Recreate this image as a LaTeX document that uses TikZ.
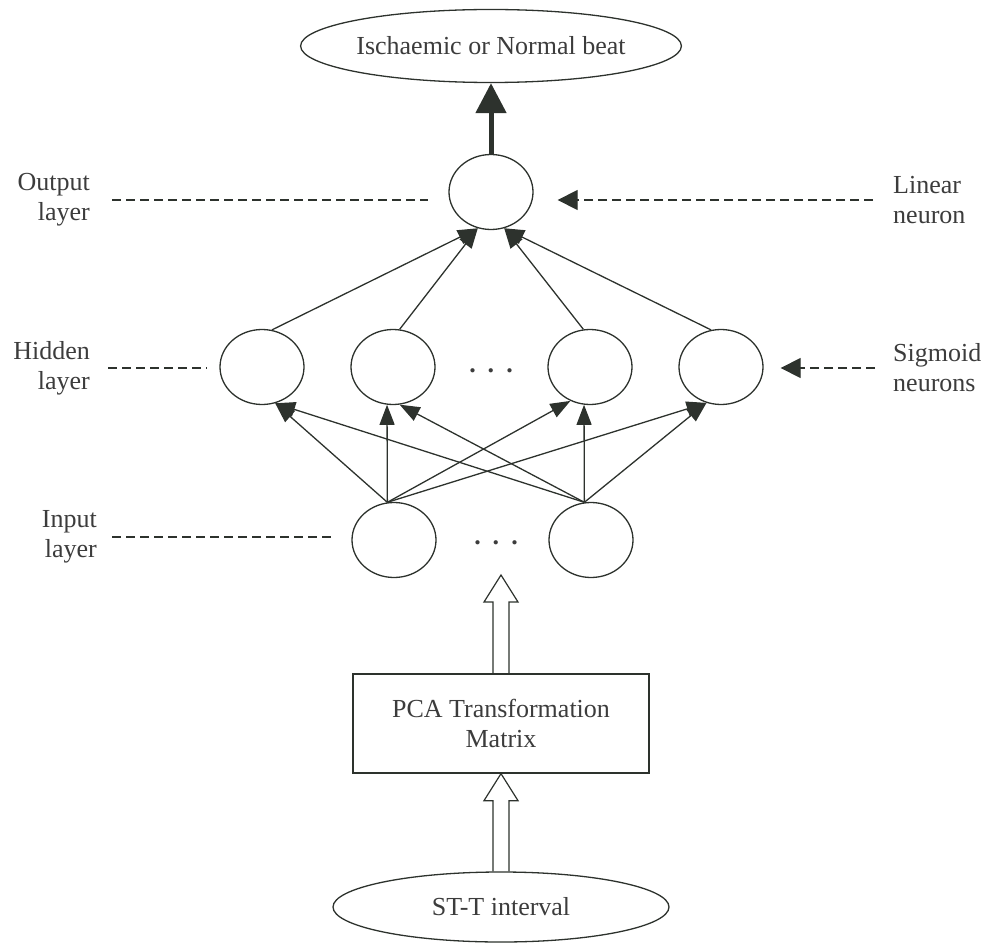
\documentclass[tikz,border=0pt]{standalone}
\usepackage{fontspec}
\setmainfont{Liberation Serif}
\usetikzlibrary{arrows.meta,calc,shapes.geometric}

\definecolor{ink}{RGB}{45,50,45}
\definecolor{txt}{RGB}{60,60,60}

\tikzset{
  neuron/.style={ellipse,draw=ink,line width=1.3pt,minimum width=84pt,minimum height=75pt,inner sep=0pt},
  blob/.style={ellipse,draw=ink,line width=1.3pt,inner sep=0pt},
  layerlbl/.style={inner sep=0pt},
  wire/.style={draw=ink,line width=1.3pt,-{Triangle[length=20pt,width=15pt]}},
  guide/.style={draw=ink,line width=1.3pt,dash pattern=on 9pt off 5pt},
}

% open block arrow pointing up, from #1 to tip #2
\newcommand\hollowarrow[2]{%
  \draw[ink,line width=1.2pt] ($(#1)+(-8,0)$) -- ($(#2)+(-8,27)$) -- ($(#2)+(-17,27)$) -- (#2)
    -- ($(#2)+(17,27)$) -- ($(#2)+(8,27)$) -- ($(#1)+(8,0)$);}

\begin{document}
\begin{tikzpicture}[x=1pt,y=-1pt,text=txt,font=\fontsize{26}{30}\selectfont] % one unit = one pixel, y pointing down
\useasboundingbox (0,0) rectangle (985,944);

% result and output neuron
\node[blob,minimum width=318pt,minimum height=73pt] (beat) at (491,46) {Ischaemic or Normal beat};
\node[neuron] (out) at (491,192) {};
\draw[ink,line width=5pt,-{Triangle[length=30pt,width=30pt]}] (out) -- (beat);

% hidden layer
\node[neuron] (h1) at (262,367) {};
\node[neuron] (h2) at (393,367) {};
\node[neuron] (h3) at (590,367) {};
\node[neuron] (h4) at (721,367) {};
\node[anchor=base,inner sep=0pt,font=\fontsize{26}{30}\selectfont\bfseries] (hdots) at (491,372) {.\hspace{12pt}.\hspace{12pt}.};

% input layer
\node[neuron] (in1) at (394,540) {};
\node[neuron] (in2) at (591,540) {};
\node[anchor=base,inner sep=0pt,font=\fontsize{26}{30}\selectfont\bfseries] (idots) at (496,544) {.\hspace{12pt}.\hspace{12pt}.};

% weights
\foreach \h/\a in {h1/75,h2/80}
  \draw[wire] (\h.\a) -- (out.-110);
\foreach \h/\a in {h3/100,h4/105}
  \draw[wire] (\h.\a) -- (out.-70);
\foreach \i/\h in {in1/h1.-70,in1/h2.-99,in1/h3.-120,in1/h4.-112,in2/h1.-70,in2/h2.-80,in2/h3.-99,in2/h4.-112}
  \draw[wire] (\i.100) -- (\h);

% preprocessing
\node[draw=ink,line width=1.3pt,minimum width=296pt,minimum height=99pt,align=center] (pca) at (501,723.5) {PCA Transformation\\Matrix};
\node[blob,minimum width=336pt,minimum height=70pt] (st) at (501,907) {ST-T interval};
\coordinate (intip) at (501,575);
\hollowarrow{pca.north}{intip}
\hollowarrow{st.north}{pca.south}

% layer labels
\node[layerlbl,anchor=east,align=right] (outlbl) at (90,200) {Output\\layer};
\node[layerlbl,anchor=east,align=right] (hidlbl) at (90,368) {Hidden\\layer};
\node[layerlbl,anchor=east,align=right] (inlbl) at (97,537) {Input\\layer};
\draw[guide,shorten <=22pt,shorten >=20pt] (outlbl.east) -- (outlbl.east -| out.west);
\draw[guide,shorten <=18pt,shorten >=13pt] (hidlbl.east) -- (hidlbl.east -| h1.west);
\draw[guide,shorten <=15pt,shorten >=20pt] (inlbl.east) -- (inlbl.east -| in1.west);

% neuron types
\node[layerlbl,anchor=west,align=left] (linlbl) at (893,200) {Linear\\neuron};
\node[layerlbl,anchor=west,align=left] (siglbl) at (893,368) {Sigmoid\\neurons};
\draw[guide,-{Triangle[length=20pt,width=20pt]},shorten <=20pt,shorten >=24pt] (linlbl.west) -- (linlbl.west -| out.east);
\draw[guide,-{Triangle[length=20pt,width=20pt]},shorten <=18pt,shorten >=17pt] (siglbl.west) -- (siglbl.west -| h4.east);

\end{tikzpicture}
\end{document}
